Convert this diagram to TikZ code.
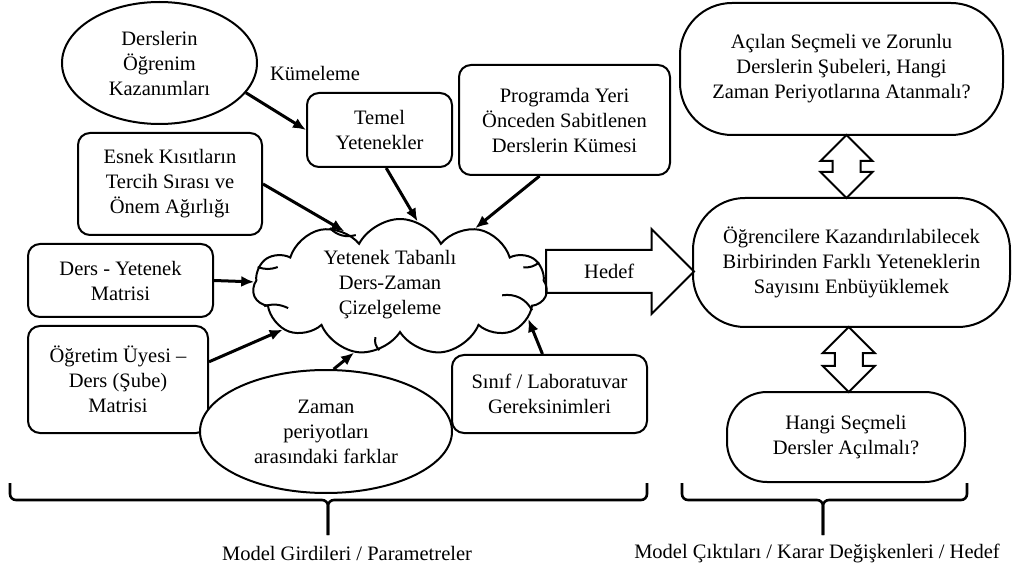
\documentclass[tikz,border=0pt]{standalone}
\usepackage{fontspec}
\setmainfont{Liberation Serif}
\usetikzlibrary{arrows.meta,calc,shapes.geometric,shapes.symbols,shapes.arrows}

\tikzset{
  kutu/.style={draw, line width=2pt, rounded corners=12pt, fill=white, align=center, inner sep=0pt},
  oval/.style={draw, ellipse, line width=2pt, fill=white, align=center, inner sep=0pt},
  hap/.style={draw, line width=2pt, rounded corners=52pt, align=center, inner sep=0pt},
  bulut/.style={draw, cloud, cloud puffs=11, cloud puff arc=125, line width=2pt, inner sep=0pt},
  ic/.style={line width=2pt},
  ok/.style={line width=3pt, -{Latex[length=13pt,width=11pt]}},
  cift/.style={draw, double arrow, line width=2pt, double arrow head extend=12pt, double arrow tip angle=90,
    inner xsep=0pt, inner ysep=13pt, text height=0pt, text depth=0pt, rotate=90},
  kalin/.style={draw, single arrow, line width=2pt, single arrow head extend=21pt, single arrow tip angle=90,
    text height=14pt, text depth=0pt, inner ysep=13.5pt, inner xsep=0pt},
  parantez/.style={line width=2.6pt, rounded corners=6pt},
}

\begin{document}
\begin{tikzpicture}[x=1pt, y=-1pt, font=\fontsize{20.5}{25}\selectfont]
  %%%%% START %%%%%
  \useasboundingbox (0,0) rectangle (1013,572);

  % girdiler
  \node[oval, minimum width=195pt, minimum height=122pt] (kaz) at (159.5,63) {Derslerin\\Öğrenim\\Kazanımları};
  \node (kume) at (315,73) {Kümeleme};
  \node[kutu, minimum width=145pt, minimum height=74pt] (temel) at (379.5,130) {Temel\\Yetenekler};
  \node[kutu, minimum width=211pt, minimum height=110pt] (prog) at (564.5,120) {Programda Yeri\\Önceden Sabitlenen\\Derslerin Kümesi};
  \node[kutu, minimum width=184pt, minimum height=102pt] (esnek) at (170,184) {Esnek Kısıtların\\Tercih Sırası ve\\Önem Ağırlığı};
  \node[kutu, minimum width=185pt, minimum height=73pt] (dy) at (120.5,280.5) {Ders - Yetenek\\Matrisi};
  \node[kutu, minimum width=180pt, minimum height=107pt] (og) at (118,379.5) {Öğretim Üyesi –\\Ders (Şube)\\Matrisi};
  \node[kutu, minimum width=195pt, minimum height=78pt] (sinif) at (549.5,394) {Sınıf / Laboratuvar\\Gereksinimleri};
  \node[oval, minimum width=252pt, minimum height=123pt] (zaman) at (326,431.5) {Zaman\\periyotları\\arasındaki farklar};

  % bulut ve ic kivrimlari
  \node[bulut, minimum width=294pt, minimum height=136pt] (bulut) at (400,287) {};
  \node[align=center] (bulutyazi) at (390,285) {Yetenek Tabanlı\\Ders-Zaman\\Çizelgeleme};
  \draw[ic] (bulut.140) to[bend right=30] ++(26,7);
  \draw[ic] (bulut.172) to[bend right=20] ++(20,0);
  \draw[ic] (bulut.188) to[bend left=20] ++(24,2);
  \draw[ic] (bulut.-10) to[bend right=35] ++(-30,-15);
  \draw[ic] (bulut.10) to[bend left=20] ++(-16,5);
  \draw[ic] (bulut.252) to[bend left=30] ++(-4,-13);

  % ciktilar
  \node[hap, minimum width=323pt, minimum height=132pt] (ust) at (841.5,69) {Açılan Seçmeli ve Zorunlu\\Derslerin Şubeleri, Hangi\\Zaman Periyotlarına Atanmalı?};
  \node[hap, minimum width=317pt, minimum height=129pt] (orta) at (851.5,262.5) {Öğrencilere Kazandırılabilecek\\Birbirinden Farklı Yeteneklerin\\Sayısını Enbüyüklemek};
  \node[hap, rounded corners=40pt, minimum width=238pt, minimum height=90pt] (alt) at (846,437) {Hangi Seçmeli\\Dersler Açılmalı?};

  \node[kalin, minimum height=148pt, anchor=tail] (hedef) at (545,271.5) {Hedef};
  \node[cift, minimum height=63pt] (c1) at ($(ust.south)!0.5!(orta.north)$) {};
  \node[cift, minimum height=65pt] (c2) at ($(orta.south)!0.5!(alt.north)$) {};

  % oklar
  \draw[ok] (kaz.-19) -- (temel.west);
  \draw[ok] (temel.-80) -- (bulut.75);
  \draw[ok] (prog.-114) -- (bulut.38);
  \draw[ok] (esnek.east) -- (bulut.135);
  \draw[ok] (dy.east) -- (bulut.178);
  \draw[ok] (og.11) -- (bulut.200);
  \draw[ok] (zaman.83) -- (bulut.235);
  \draw[ok] (sinif.100) -- (bulut.-14);

  % parantezler
  \draw[parantez] (10,483) |- (328,500) -- (328,535);
  \draw[parantez] (328,535) -- (328,500) -| (647,483);
  \draw[parantez] (682,483) |- (823,500) -- (823,535);
  \draw[parantez] (823,535) -- (823,500) -| (967,483);
  \node (girdi) at (347,553) {Model Girdileri / Parametreler};
  \node (cikti) at (817,553) {Model Çıktıları / Karar Değişkenleri / Hedef};
  %%%%% END %%%%%
\end{tikzpicture}
\end{document}
